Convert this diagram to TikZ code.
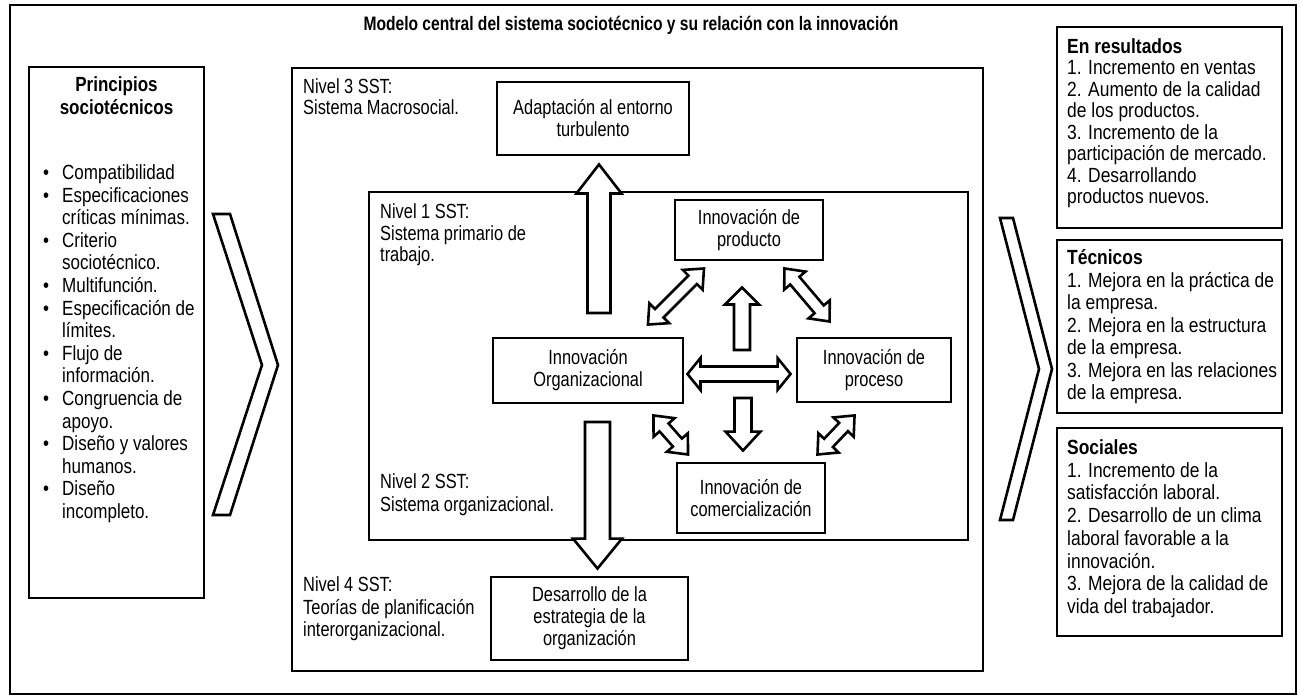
\documentclass[tikz,border=0pt]{standalone}
\usepackage{fontspec}
\setmainfont{Liberation Sans}[FakeStretch=0.80]
\newfontfamily\fontC{Liberation Sans}[FakeStretch=0.80]
\newfontfamily\fontL{Liberation Sans}[FakeStretch=0.83]
\newfontfamily\fontR{Liberation Sans}[FakeStretch=0.85]
\usetikzlibrary{calc}

\newdimen\badx \newdimen\bady
% #1 start coord, #2 end coord, #3 shaft half width, #4 head half width, #5 head length, #6 1=double 0=single
\newcommand{\blockarrow}[6]{%
  \path #1 coordinate (baS) #2 coordinate (baE);%
  \pgfextractx{\badx}{\pgfpointdiff{\pgfpointanchor{baS}{center}}{\pgfpointanchor{baE}{center}}}%
  \pgfextracty{\bady}{\pgfpointdiff{\pgfpointanchor{baS}{center}}{\pgfpointanchor{baE}{center}}}%
  \pgfmathsetmacro{\baang}{atan2(\bady,\badx)}%
  \pgfmathsetmacro{\balen}{veclen(\badx,\bady)}%
  \begin{scope}[shift={(baS)}, rotate=\baang]
    \ifnum#6=1
      \draw[blockarrow] (0,0) -- (#5,#4) -- (#5,#3) -- (\balen-#5,#3) -- (\balen-#5,#4) -- (\balen,0)
        -- (\balen-#5,-#4) -- (\balen-#5,-#3) -- (#5,-#3) -- (#5,-#4) -- cycle;
    \else
      \draw[blockarrow] (0,#3) -- (\balen-#5,#3) -- (\balen-#5,#4) -- (\balen,0)
        -- (\balen-#5,-#4) -- (\balen-#5,-#3) -- (0,-#3) -- cycle;
    \fi
  \end{scope}}

\newcommand{\tl}[2]{{\fontsize{20.5}{#1}\selectfont\begin{tabular}[t]{@{}l@{}}#2\end{tabular}}}
\newcommand{\tc}[2]{{\fontsize{20.5}{#1}\selectfont\begin{tabular}[t]{@{}c@{}}#2\end{tabular}}}

\begin{document}
\begin{tikzpicture}[x=1pt, y=-1pt, line join=miter,
  frame/.style={draw, line width=2.9pt, inner sep=0pt},
  box/.style={draw, line width=2.9pt, fill=white, inner sep=0pt, align=center,
              font=\fontC\fontsize{20.5}{22}\selectfont},
  blockarrow/.style={draw, line width=2.6pt, fill=white, line join=miter},
  txt/.style={inner sep=0pt, font=\fontC},
  txtL/.style={inner sep=0pt, font=\fontL},
  txtR/.style={inner sep=0pt, font=\fontR}]

\fill[white] (0,0) rectangle (1302,697);
\useasboundingbox (0,0) rectangle (1302,697);

% frames
\node[frame, line width=2.6pt, minimum width=1286pt, minimum height=689pt] (outer) at (653,349.5) {};
\node[frame, minimum width=175pt, minimum height=531pt] (left) at (116.5,332.5) {};
\node[frame, minimum width=691pt, minimum height=603pt] (lvl3) at (637.5,369.5) {};
\node[frame, minimum width=599pt, minimum height=348pt] (lvl1) at (668.5,366) {};
\node[frame, minimum width=225pt, minimum height=201pt] (resA) at (1169.5,127.5) {};
\node[frame, minimum width=225pt, minimum height=173pt] (resB) at (1169.5,326.5) {};
\node[frame, minimum width=225pt, minimum height=208pt] (resC) at (1169.5,532) {};

% title
\node[inner sep=0pt, anchor=base, font=\fontC\fontsize{19.5}{22}\selectfont\bfseries] (title) at (631,30)
  {Modelo central del sistema sociotécnico y su relación con la innovación};

% left panel
\node[txtL, anchor=base] (lhead) at (116.5,91.5) {\tc{23}{\bfseries Principios\\\bfseries sociotécnicos}};
\node[txtL, anchor=base west] (lbul) at (43,179.5) {\tl{22.6}{•\\•\\ \\•\\ \\•\\•\\ \\•\\ \\•\\ \\•\\ \\•\\ }};
\node[txtL, anchor=base west] (llist) at (62,179.5) {\tl{22.6}{Compatibilidad\\Especificaciones\\críticas mínimas.\\Criterio\\sociotécnico.\\Multifunción.\\Especificación de\\límites.\\Flujo de\\información.\\Congruencia de\\apoyo.\\Diseño y valores\\humanos.\\Diseño\\incompleto.}};

% level labels
\node[txt, anchor=base west] (n3) at (303,93.5) {\tl{21}{Nivel 3 SST:\\Sistema Macrosocial.}};
\node[txt, anchor=base west] (n1) at (380,218.5) {\tl{21.5}{Nivel 1 SST:\\Sistema primario de\\trabajo.}};
\node[txt, anchor=base west] (n2) at (380,488.5) {\tl{23}{Nivel 2 SST:\\Sistema organizacional.}};
\node[txt, anchor=base west] (n4) at (303,591.5) {\tl{22.5}{Nivel 4 SST:\\Teorías de planificación\\interorganizacional.}};

% boxes
\node[box, minimum width=192pt, minimum height=73pt] (adapt) at (593,118.5) {Adaptación al entorno\\turbulento};
\node[box, minimum width=148pt, minimum height=60pt] (prod) at (749,230) {Innovación de\\producto};
\node[box, minimum width=190pt, minimum height=65pt] (org) at (588,370.5) {Innovación\\Organizacional};
\node[box, minimum width=154pt, minimum height=64pt] (proc) at (874,370) {Innovación de\\proceso};
\node[box, minimum width=148pt, minimum height=70pt] (com) at (751,498) {Innovación de\\comercialización};
\node[box, minimum width=197pt, minimum height=83pt] (des) at (589.5,618.5) {Desarrollo de la\\estrategia de la\\organización};

% right texts
\node[txtR, anchor=base west] (tA) at (1067,53.5) {\tl{21.4}{\textbf{En resultados}\\1. Incremento en ventas\\2. Aumento de la calidad\\de los productos.\\3. Incremento de la\\participación de mercado.\\4. Desarrollando\\productos nuevos.}};
\node[txtR, anchor=base west] (tB) at (1067,264.5) {\tl{22.5}{\textbf{Técnicos}\\1. Mejora en la práctica de\\la empresa.\\2. Mejora en la estructura\\de la empresa.\\3. Mejora en las relaciones\\de la empresa.}};
\node[txtR, anchor=base west] (tC) at (1067,454.5) {\tl{22.7}{\textbf{Sociales}\\1. Incremento de la\\satisfacción laboral.\\2. Desarrollo de un clima\\laboral favorable a la\\innovación.\\3. Mejora de la calidad de\\vida del trabajador.}};

% chevrons
\draw[blockarrow] (213,214) -- (230,214) -- (278,365) -- (230,515) -- (213,515) -- (262,365) -- cycle;
\draw[blockarrow] (1000,218) -- (1013,218) -- (1052,369) -- (1013,520) -- (1000,520) -- (1039,369) -- cycle;

% free ends
\coordinate (bigupS) at (599,313);
\coordinate (bigdnS) at (597.5,422);
\coordinate (smupS) at (742,350);
\coordinate (smdnS) at (743,398);

% block arrows
\blockarrow{(bigupS)}{($(adapt.south)+(6,8)$)}{11.5}{22.5}{29}{0}
\blockarrow{(bigdnS)}{($(des.north)+(8,-7)$)}{12.5}{24.5}{30}{0}
\blockarrow{(smupS)}{($(prod.south)+(-7,26)$)}{8}{17}{17}{0}
\blockarrow{(smdnS)}{($(com.north)+(-8,-11)$)}{8.5}{17.5}{19}{0}
\blockarrow{($(org.east)+(3,3.5)$)}{($(proc.west)+(-5,4)$)}{7.5}{16}{13}{1}
\blockarrow{($(org.north east)+(-36.5,-12)$)}{($(prod.south west)+(30.5,7)$)}{6}{14}{16}{1}
\blockarrow{($(prod.south east)+(-40,7)$)}{($(proc.north west)+(34,-15)$)}{6}{14}{16}{1}
\blockarrow{($(org.south east)+(-31,11)$)}{($(com.north west)+(12.5,-7)$)}{6}{14}{16}{1}
\blockarrow{($(proc.south west)+(59,12)$)}{($(com.north east)+(-9,-7)$)}{6}{14}{16}{1}

\end{tikzpicture}
\end{document}
